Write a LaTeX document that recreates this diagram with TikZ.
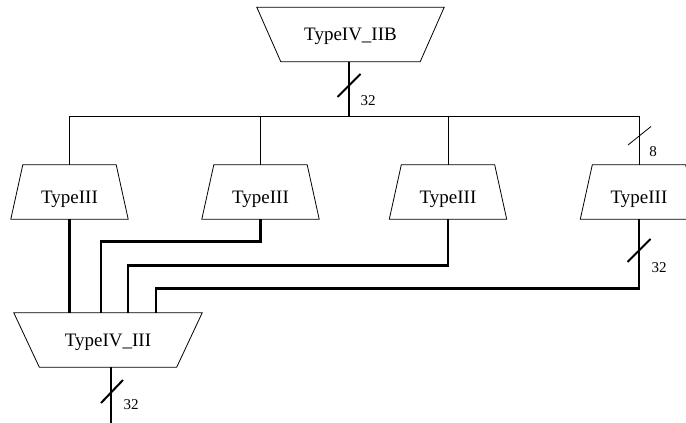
\documentclass[tikz,border=0pt]{standalone}
\usepackage{fontspec}
\setmainfont{Liberation Serif}
\usetikzlibrary{calc}
\tikzset{
  box/.style={inner sep=0pt, minimum height=54pt, text height=12.6pt, text depth=0pt, font=\fontsize{19}{19}\selectfont},
  lowtext/.style={text height=22pt},
  thin/.style={line width=0.8pt},
  thick/.style={line width=2.8pt},
  lbl/.style={inner sep=0pt, font=\fontsize{15}{15}\selectfont},
}
\begin{document}
\begin{tikzpicture}[x=1pt,y=-1pt]
\useasboundingbox (0,0) rectangle (686,423);
% nodes
\node[box, minimum width=187pt] (top) at (350.5,34.5) {TypeIV\_IIB};
\node[box, lowtext, minimum width=117pt] (t1) at (69.5,192) {TypeIII};
\node[box, lowtext, minimum width=117pt] (t2) at (260.5,192) {TypeIII};
\node[box, lowtext, minimum width=117pt] (t3) at (448,192) {TypeIII};
\node[box, lowtext, minimum width=117pt] (t4) at (639,192) {TypeIII};
\node[box, minimum width=188pt] (bot) at (108,340) {TypeIV\_III};
% shapes
\draw[thin] (top.north west) -- (top.north east) -- ($(top.south east)+(-24,0)$) -- ($(top.south west)+(24,0)$) -- cycle;
\foreach \n in {t1,t2,t3,t4}{
  \draw[thin] ($(\n.north west)+(12,0)$) -- ($(\n.north east)+(-12,0)$) -- (\n.south east) -- (\n.south west) -- cycle;
}
\draw[thin] (bot.north west) -- (bot.north east) -- ($(bot.south east)+(-25.5,0)$) -- ($(bot.south west)+(25.5,0)$) -- cycle;
% bus
\coordinate (bus) at (349,116);
\draw[thick] (top.south -| bus) -- (bus);
\draw[thin] (t1.north) -- (t1.north |- bus) -- (t4.north |- bus) -- (t4.north);
\draw[thin] (t2.north) -- (t2.north |- bus);
\draw[thin] (t3.north) -- (t3.north |- bus);
% thick connections to TypeIV_III
\coordinate (in1) at (69.5,313);
\coordinate (in2) at (101,313);
\coordinate (in3) at (128,313);
\coordinate (in4) at (156,313);
\draw[thick] (t1.south) -- (in1);
\draw[thick] (t2.south) -- ++(0,22) -| (in2);
\draw[thick] (t3.south) -- ++(0,46) -| (in3);
\draw[thick] (t4.south) -- ++(0,69) -| (in4);
% output
\coordinate (out) at (111,423);
\draw[thick] (bot.south -| out) -- (out);
% bus-width marks
\coordinate (m1) at (349,85.5);
\draw[line width=2pt] ($(m1)+(-11.5,11.5)$) -- ($(m1)+(11.5,-11.5)$);
\node[lbl] (l1) at (368,101) {32};
\coordinate (m2) at (639,136);
\draw[thin] ($(m2)+(-11,9)$) -- ($(m2)+(12,-9.5)$);
\node[lbl] (l2) at (653,152) {8};
\coordinate (m3) at (639,250.5);
\draw[line width=2pt] ($(m3)+(-11.5,11.5)$) -- ($(m3)+(11.5,-11.5)$);
\node[lbl] (l3) at (659,268) {32};
\coordinate (m4) at (111,391.5);
\draw[line width=2pt] ($(m4)+(-10,11.5)$) -- ($(m4)+(12,-11.5)$);
\node[lbl] (l4) at (131,405) {32};
\end{tikzpicture}
\end{document}
